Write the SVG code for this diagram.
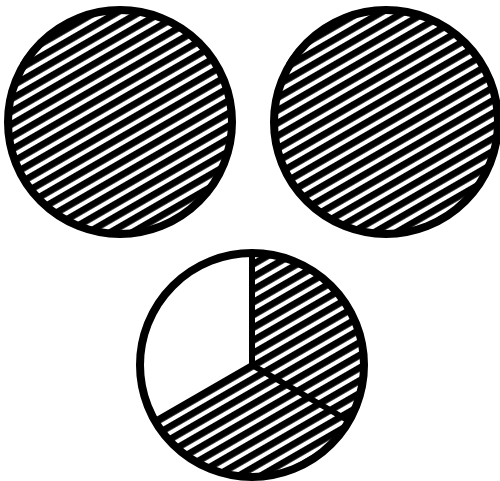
<svg xmlns="http://www.w3.org/2000/svg" width="500" height="481" viewBox="0 0 500 481">
<defs>
<pattern id="hatch" patternUnits="userSpaceOnUse" width="20" height="11" patternTransform="rotate(-30)">
<rect x="0" y="0" width="20" height="6.8" fill="#000"/>
</pattern>
<style>
.outline{fill:none;stroke:#000;stroke-width:8;stroke-linecap:round;stroke-linejoin:round}
.sketch{fill:none;stroke:#000;stroke-width:4;stroke-linecap:round}
.hatched{fill:url(#hatch);stroke:none}
.div{fill:none;stroke:#000;stroke-width:6;stroke-linecap:round}
</style>
</defs>
<rect width="500" height="481" fill="#fff"/>
<g id="circle-left">
<circle class="hatched" cx="120" cy="122" r="112"/>
<circle class="outline" cx="120" cy="122" r="112"/>
<path class="sketch" d="M22,64 A112,112 0 0,1 118,12"/>
</g>
<g id="circle-right">
<circle class="hatched" cx="386" cy="122" r="112"/>
<circle class="outline" cx="386" cy="122" r="112"/>
<path class="sketch" d="M288,64 A112,112 0 0,1 384,12"/>
</g>
<g id="pie">
<path class="hatched" d="M252,365 L252,253 A112,112 0 1,1 155,421 Z"/>
<circle class="outline" cx="252" cy="365" r="112"/>
<path class="div" d="M252,253 L252,365 L155,421 M252,365 L349,421"/>
</g>
</svg>
